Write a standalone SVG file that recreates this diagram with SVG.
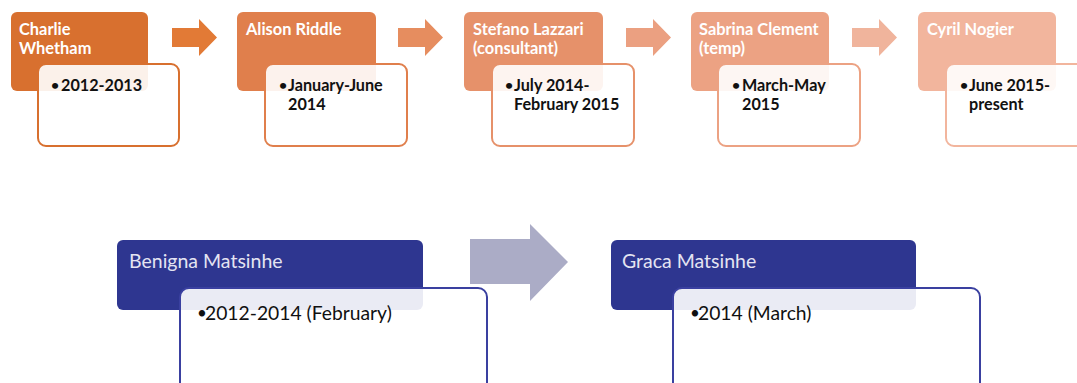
<svg xmlns="http://www.w3.org/2000/svg" width="1077" height="383" viewBox="0 0 1077 383">
  <style>
    text { font-family: Lato, "Liberation Sans", sans-serif; }
    .hd { stroke: none; }
    .bd { fill: #ffffff; fill-opacity: 0.9; stroke-width: 2; }
    .ht { fill: #ffffff; font-size: 16.4px; font-weight: 700; }
    .bt { fill: #111111; font-size: 16.2px; font-weight: 700; }
    .hb { fill: #e4e4f2; font-size: 19.5px; }
    .bb { fill: #111111; font-size: 19.3px; }
    .dot { font-size: 14px; }
    .dotb { font-size: 17px; }
  </style>

  <!-- connectors: block arrows between stages -->
  <g id="connectors">
    <polygon fill="#e27a36" points="172,28 199,28 199,19 217,37.5 199,56 199,47 172,47"/>
    <polygon fill="#e68d5f" points="398,28 425,28 425,19 443,37.5 425,56 425,47 398,47"/>
    <polygon fill="#eba081" points="626,28 653,28 653,19 671,37.5 653,56 653,47 626,47"/>
    <polygon fill="#f0b49c" points="852,28 879,28 879,19 897,37.5 879,56 879,47 852,47"/>
    <polygon fill="#abacc6" points="470,239 530,239 530,224 568,262 530,301 530,284 470,284"/>
  </g>

  <!-- top row: successive post holders -->
  <g id="charlie-whetham">
    <rect class="hd" x="11" y="12" width="137" height="79" rx="6" fill="#d8702f"/>
    <rect class="bd" x="38" y="64" width="141" height="82" rx="8" stroke="#d8702f"/>
    <text class="ht"><tspan x="19" y="35">Charlie</tspan><tspan x="19" y="54">Whetham</tspan></text>
    <text class="bt"><tspan class="dot" x="51" y="89.5">•</tspan><tspan x="61" y="91">2012-2013</tspan></text>
  </g>

  <g id="alison-riddle">
    <rect class="hd" x="237" y="12" width="139" height="79" rx="6" fill="#e07f4c"/>
    <rect class="bd" x="265" y="64" width="142" height="82" rx="8" stroke="#e07f4c"/>
    <text class="ht" x="246" y="35">Alison Riddle</text>
    <text class="bt"><tspan class="dot" x="279" y="89.5">•</tspan><tspan x="288" y="91">January-June</tspan><tspan x="288" y="110">2014</tspan></text>
  </g>

  <g id="stefano-lazzari">
    <rect class="hd" x="464" y="12" width="139" height="79" rx="6" fill="#e6916a"/>
    <rect class="bd" x="492" y="64" width="142" height="82" rx="8" stroke="#e6916a"/>
    <text class="ht"><tspan x="473" y="35">Stefano Lazzari</tspan><tspan x="473" y="54">(consultant)</tspan></text>
    <text class="bt"><tspan class="dot" x="505" y="89.5">•</tspan><tspan x="514" y="91">July 2014-</tspan><tspan x="514" y="110">February 2015</tspan></text>
  </g>

  <g id="sabrina-clement">
    <rect class="hd" x="691" y="12" width="138" height="79" rx="6" fill="#eca283"/>
    <rect class="bd" x="718" y="64" width="142" height="82" rx="8" stroke="#eca283"/>
    <text class="ht"><tspan x="699" y="35">Sabrina Clement</tspan><tspan x="699" y="54">(temp)</tspan></text>
    <text class="bt"><tspan class="dot" x="732" y="89.5">•</tspan><tspan x="742" y="91">March-May</tspan><tspan x="742" y="110">2015</tspan></text>
  </g>

  <g id="cyril-nogier">
    <rect class="hd" x="918" y="12" width="138" height="79" rx="6" fill="#f2b59d"/>
    <rect class="bd" x="946" y="64" width="142" height="82" rx="8" stroke="#f2b59d"/>
    <text class="ht" x="927" y="35">Cyril Nogier</text>
    <text class="bt"><tspan class="dot" x="960" y="89.5">•</tspan><tspan x="969" y="91">June 2015-</tspan><tspan x="969" y="110">present</tspan></text>
  </g>

  <!-- bottom row -->
  <g id="benigna-matsinhe">
    <rect class="hd" x="117" y="240" width="306" height="70" rx="6" fill="#2e3690"/>
    <rect class="bd" x="180" y="288" width="307" height="115" rx="9" stroke="#3a40a0"/>
    <text class="hb" x="129" y="268">Benigna Matsinhe</text>
    <text class="bb"><tspan class="dotb" x="197" y="318.5">•</tspan><tspan x="205" y="320">2012-2014 (February)</tspan></text>
  </g>

  <g id="graca-matsinhe">
    <rect class="hd" x="611" y="240" width="305" height="70" rx="6" fill="#2e3690"/>
    <rect class="bd" x="673" y="288" width="307" height="115" rx="9" stroke="#3a40a0"/>
    <text class="hb" x="622" y="268">Graca Matsinhe</text>
    <text class="bb"><tspan class="dotb" x="690" y="318.5">•</tspan><tspan x="698" y="320">2014 (March)</tspan></text>
  </g>
</svg>
